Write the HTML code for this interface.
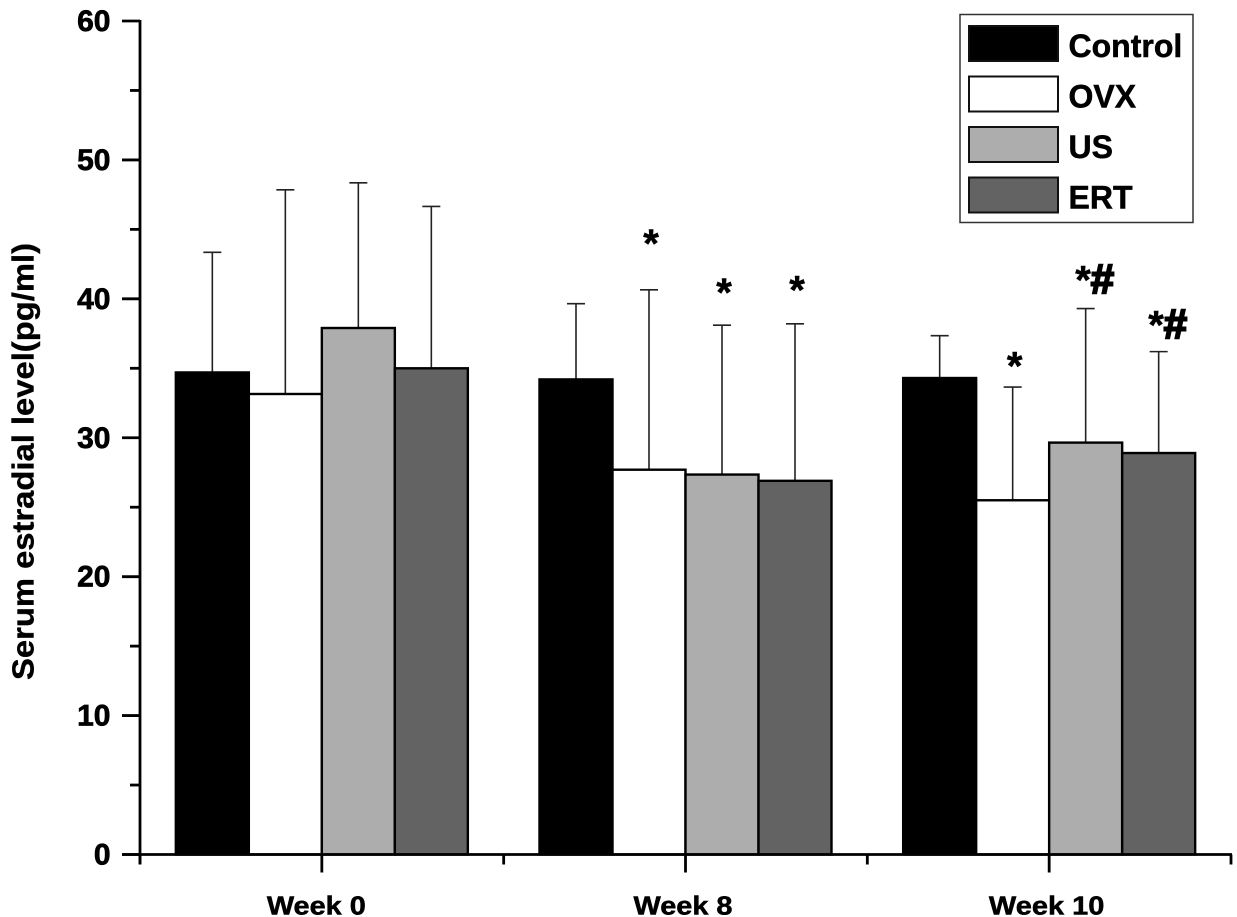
<!DOCTYPE html>
<html lang="en">
<head>
<meta charset="utf-8">
<title>Serum estradial level</title>
<style>
html,body{margin:0;padding:0;background:#fff}
svg{display:block;font-family:"Liberation Sans",Arial,sans-serif}
</style>
</head>
<body>
<svg id="chart" xmlns="http://www.w3.org/2000/svg" width="1237" height="917" viewBox="0 0 1237 917">
  <rect width="1237" height="917" fill="#fff"/>
  <g id="bars"></g>
  <g id="axes"></g>
  <g id="annotations"></g>
  <text transform="translate(33.5 461.5) rotate(-90)" text-anchor="middle" font-size="31" font-weight="700" stroke="#000" stroke-width="0.4" textLength="437" lengthAdjust="spacingAndGlyphs">Serum estradial level(pg/ml)</text>
  <g id="legend">
    <rect x="960" y="14.5" width="233" height="208" fill="#fff" stroke="#333" stroke-width="1.5"/>
  </g>
</svg>
<script>
const categories = ['Week 0', 'Week 8', 'Week 10'];
const seriesNames = ['Control', 'OVX', 'US', 'ERT'];
const seriesColors = ['#000000', '#ffffff', '#adadad', '#636363'];
const controlValues = [34.7, 34.2, 34.3];
const ovxValues = [33.15, 27.7, 25.5];
const usValues = [37.9, 27.35, 29.65];
const ertValues = [35.0, 26.9, 28.9];
const controlErrorTops = [43.35, 39.65, 37.35];
const ovxErrorTops = [47.85, 40.65, 33.65];
const usErrorTops = [48.35, 38.1, 39.3];
const ertErrorTops = [46.65, 38.2, 36.2];
const yTickValues = [0, 10, 20, 30, 40, 50, 60];
const yMinorTickValues = [5, 15, 25, 35, 45, 55];
const markerGroups = [1, 1, 1, 2, 2, 2];
const markerSeries = [1, 2, 3, 1, 2, 3];
const markerLabels = ['*', '*', '*', '*', '*#', '*#'];
const markerLevels = [43.0, 39.5, 39.65, 34.2, 40.4, 37.15];

const seriesValues = [controlValues, ovxValues, usValues, ertValues];
const seriesErrorTops = [controlErrorTops, ovxErrorTops, usErrorTops, ertErrorTops];
const NS = 'http://www.w3.org/2000/svg';
const plotLeft = 140, plotRight = 1231, plotBottom = 854.5, plotTop = 21;
const yScale = v => plotBottom - (v / 60) * (plotBottom - plotTop);
const groupWidth = (plotRight - plotLeft) / categories.length;
const barWidth = 73;
const groupCenter = g => plotLeft + groupWidth * (g + 0.5);
const barLeft = (g, s) => groupCenter(g) - 2 * barWidth + s * barWidth;

function make(parent, tag, attrs, text) {
  const el = document.createElementNS(NS, tag);
  for (const k in attrs) el.setAttribute(k, attrs[k]);
  if (text !== undefined) el.textContent = text;
  parent.appendChild(el);
  return el;
}
const barsG = document.getElementById('bars');
const axesG = document.getElementById('axes');
const annG = document.getElementById('annotations');
const legendG = document.getElementById('legend');

// error bars first, then bars
seriesNames.forEach((name, s) => {
  categories.forEach((cat, g) => {
    const cx = barLeft(g, s) + barWidth / 2;
    const top = yScale(seriesErrorTops[s][g]);
    const stem = make(barsG, 'line', {x1: cx, x2: cx, y1: yScale(seriesValues[s][g]), y2: top, stroke: '#222', 'stroke-width': 1.6});
    
    
    const cap = make(barsG, 'line', {x1: cx - 9, x2: cx + 9, y1: top, y2: top, stroke: '#222', 'stroke-width': 1.6});
    
    
  });
});
seriesNames.forEach((name, s) => {
  categories.forEach((cat, g) => {
    const y = yScale(seriesValues[s][g]);
    const bar = make(barsG, 'rect', {x: barLeft(g, s), y: y, width: barWidth, height: plotBottom - y, fill: seriesColors[s], stroke: '#000', 'stroke-width': 2.4});
    
    
  });
});

// axes
const yLine = make(axesG, 'line', {x1: plotLeft, x2: plotLeft, y1: plotTop - 1, y2: plotBottom + 10, stroke: '#000', 'stroke-width': 2.8});


const xLine = make(axesG, 'line', {x1: 122, x2: plotRight + 1, y1: plotBottom, y2: plotBottom, stroke: '#000', 'stroke-width': 2.8});


yTickValues.forEach(v => {
  const y = yScale(v);
  const t = make(axesG, 'line', {x1: 122, x2: plotLeft, y1: y, y2: y, stroke: '#000', 'stroke-width': 2.8});
  
  
  const l = make(axesG, 'text', {x: 110.5, y: y + 10, 'text-anchor': 'end', 'font-size': 30, 'font-weight': 700, stroke: '#000', 'stroke-width': 0.7}, String(v));
  
  
});
yMinorTickValues.forEach(v => {
  const y = yScale(v);
  const t = make(axesG, 'line', {x1: 130, x2: plotLeft, y1: y, y2: y, stroke: '#000', 'stroke-width': 2.8});
  
  
});
categories.forEach((cat, g) => {
  const cx = groupCenter(g);
  const t = make(axesG, 'line', {x1: cx, x2: cx, y1: plotBottom, y2: plotBottom + 18, stroke: '#000', 'stroke-width': 2.8});
  
  
  const l = make(axesG, 'text', {x: cx + (g === 0 ? -5.5 : -2.5), y: 914.5, 'text-anchor': 'middle', 'font-size': 26, 'font-weight': 700, stroke: '#000', 'stroke-width': 0.5, textLength: cat.length * 16.5, lengthAdjust: 'spacingAndGlyphs'}, cat);
  
  
});
for (let g = 0; g <= categories.length; g++) {
  const x = plotLeft + groupWidth * g;
  const t = make(axesG, 'line', {x1: x, x2: x, y1: plotBottom, y2: plotBottom + 10, stroke: '#000', 'stroke-width': 2.8});
  
  
}

// significance markers
markerLabels.forEach((label, i) => {
  const g = markerGroups[i], s = markerSeries[i];
  const cx = barLeft(g, s) + barWidth / 2;
  const txt = make(annG, 'text', {x: cx + (label.length > 1 ? 9 : 2), y: yScale(markerLevels[i]), 'text-anchor': 'middle', 'font-size': 40, 'font-weight': 700, stroke: '#000', 'stroke-width': 0.5});
  
  
  const star = make(txt, 'tspan', {}, label[0]);
  
  
  if (label.length > 1) {
    const hash = make(txt, 'tspan', {'font-size': 42, 'stroke-width': 2}, label.slice(1));
    
    
  }
});

// legend
seriesNames.forEach((name, s) => {
  const y = 26 + s * 50.5;
  const sw = make(legendG, 'rect', {x: 969, y: y, width: 89, height: 35, fill: seriesColors[s], stroke: '#111', 'stroke-width': 2});
  
  
  const l = make(legendG, 'text', {x: 1068.5, y: y + 31, 'font-size': 32, 'font-weight': 700, stroke: '#000', 'stroke-width': 0.5}, name);
  
  
});
</script>
</body>
</html>
